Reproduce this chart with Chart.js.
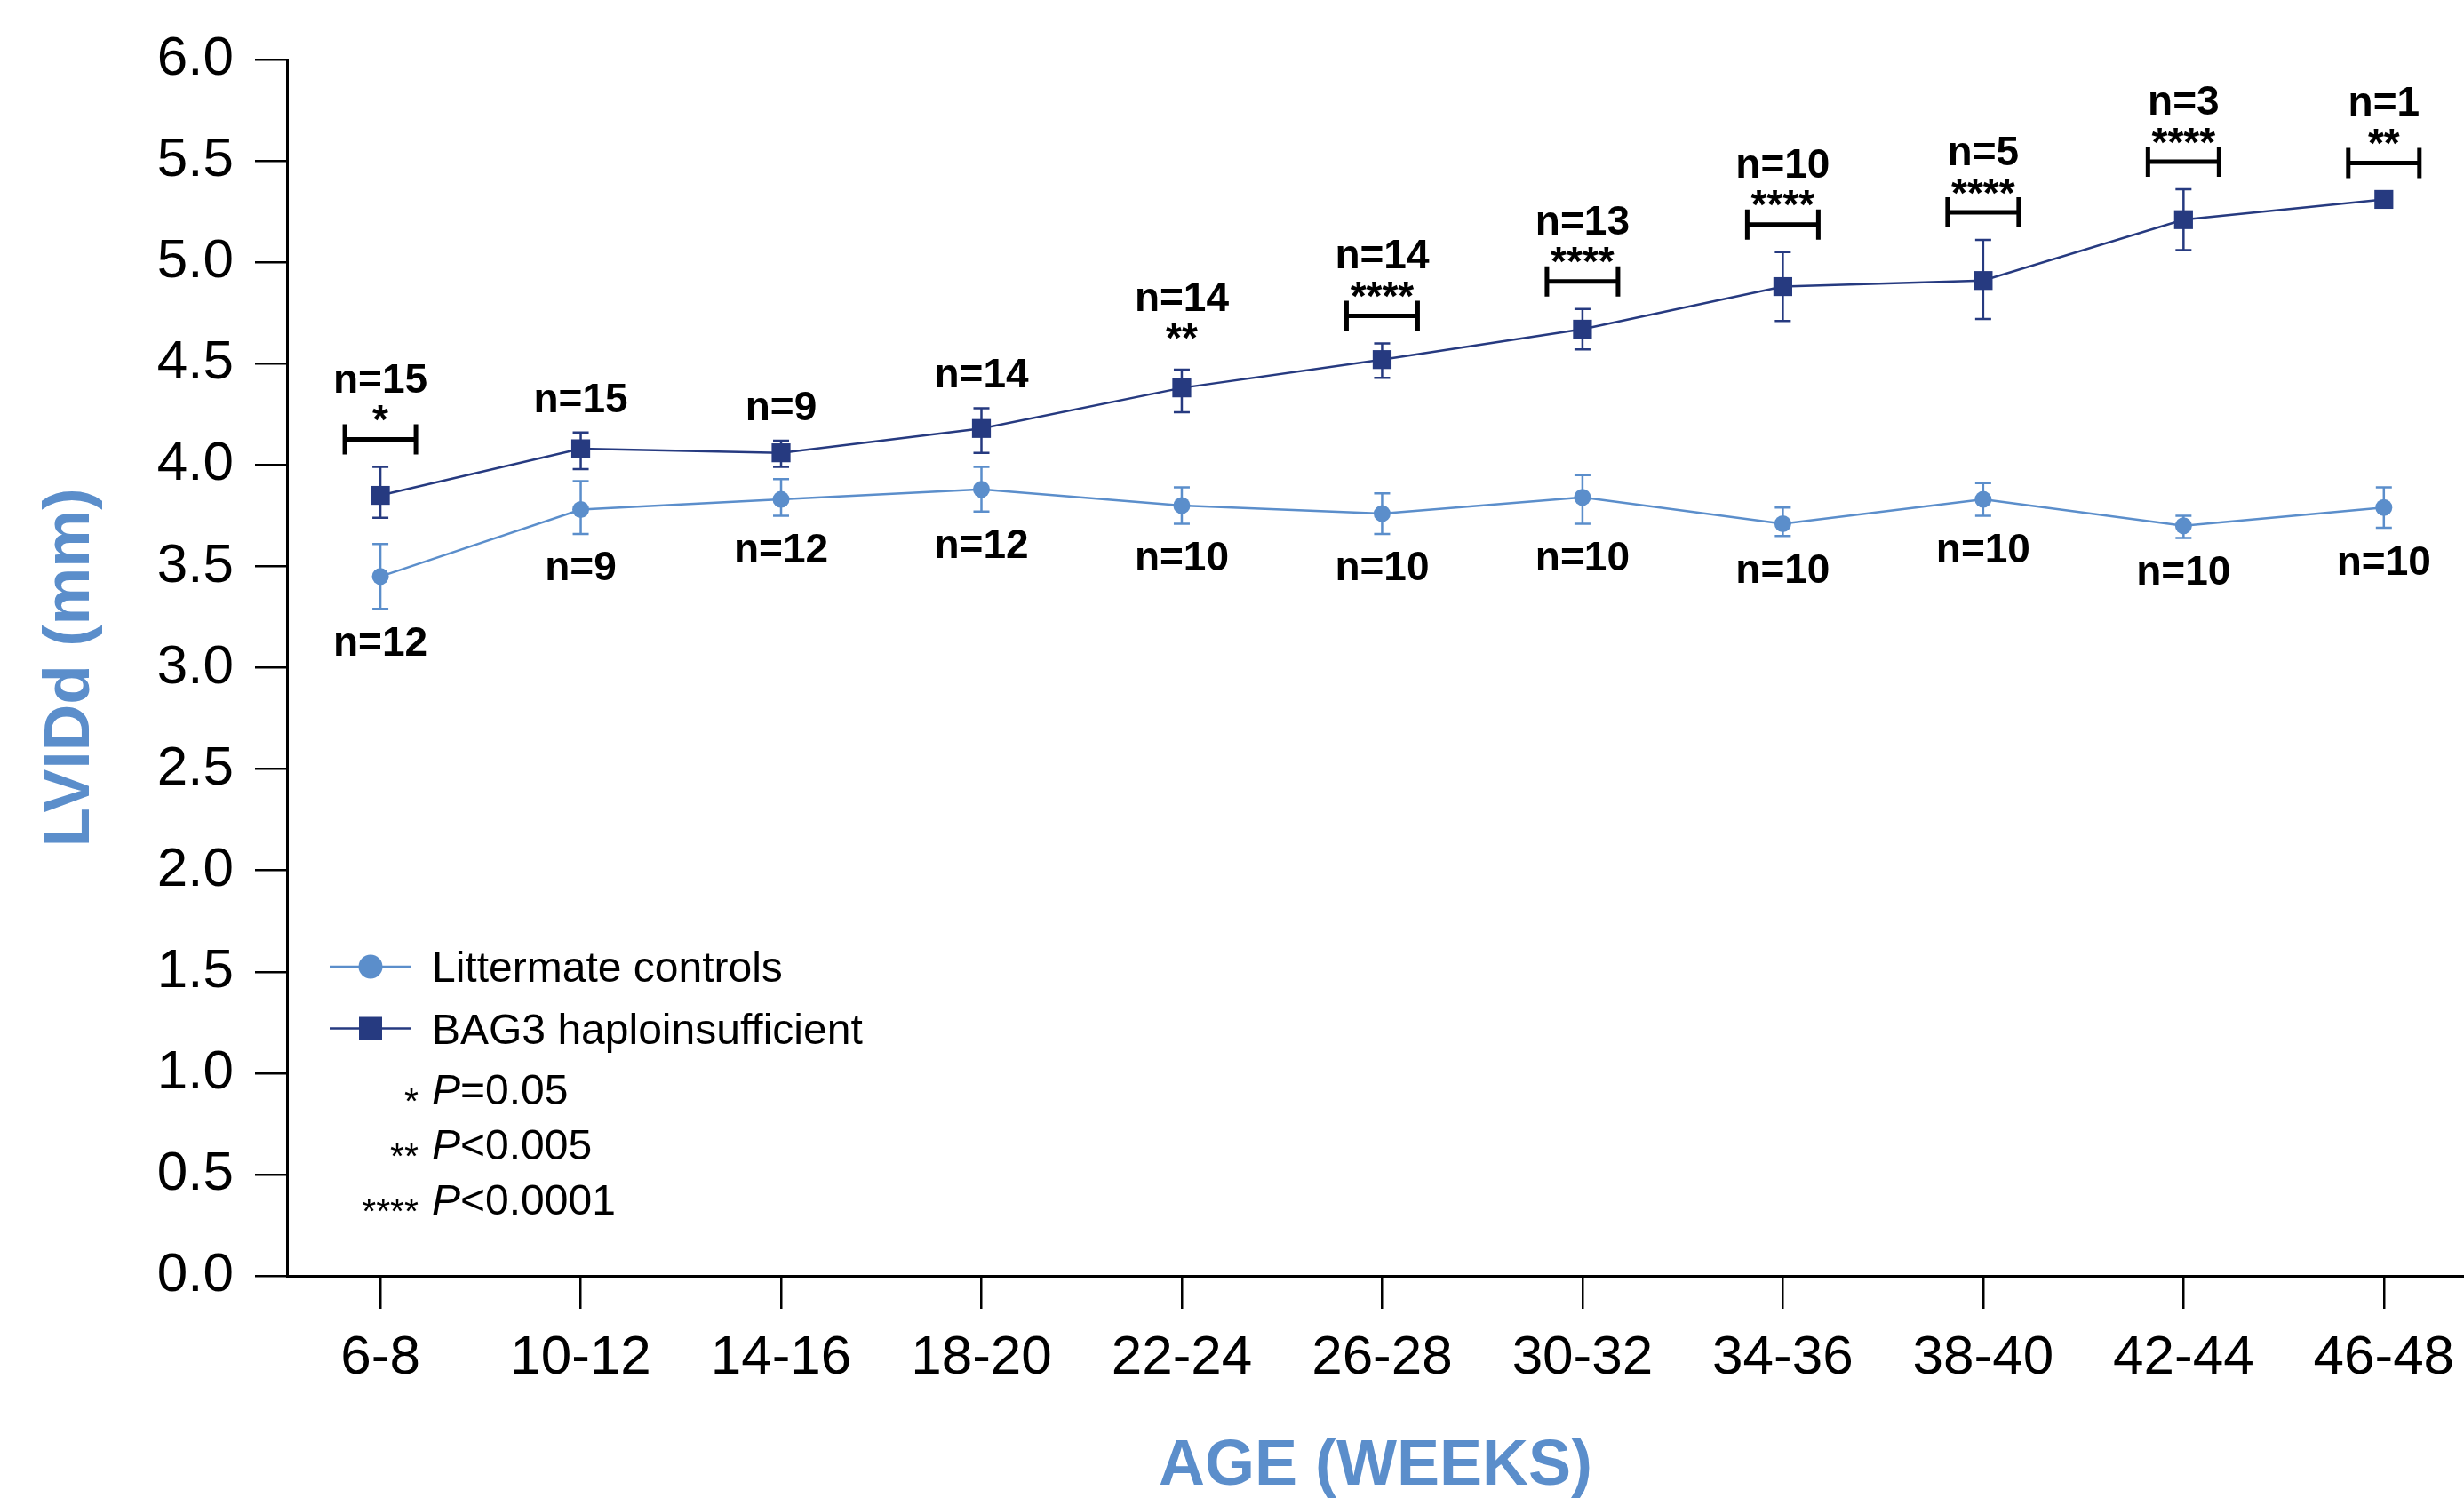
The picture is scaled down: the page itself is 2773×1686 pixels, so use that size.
<!DOCTYPE html>
<html>
<head>
<meta charset="utf-8">
<script src="https://cdn.jsdelivr.net/npm/chart.js@4.4.1/dist/chart.umd.min.js"></script>
<style>
html,body{margin:0;padding:0;background:#ffffff;overflow:hidden}
#wrap{width:2773px;height:1686px;position:relative}
canvas{display:block}
</style>
</head>
<body>
<div id="wrap"><canvas id="c" width="2773" height="1686"></canvas></div>
<script>
// ---------- data ----------
const categories = ['6-8','10-12','14-16','18-20','22-24','26-28','30-32','34-36','38-40','42-44','46-48'];

const controlMean = [3.45, 3.78, 3.83, 3.88, 3.80, 3.76, 3.84, 3.71, 3.83, 3.70, 3.79];
const controlLow  = [3.29, 3.66, 3.75, 3.77, 3.71, 3.66, 3.71, 3.65, 3.75, 3.64, 3.69];
const controlHigh = [3.61, 3.92, 3.93, 3.99, 3.89, 3.86, 3.95, 3.79, 3.91, 3.75, 3.89];

const bag3Mean = [3.85, 4.08, 4.06, 4.18, 4.38, 4.52, 4.67, 4.88, 4.91, 5.21, 5.31];
const bag3Low  = [3.74, 3.98, 3.99, 4.06, 4.26, 4.43, 4.57, 4.71, 4.72, 5.06, null];
const bag3High = [3.99, 4.16, 4.12, 4.28, 4.47, 4.60, 4.77, 5.05, 5.11, 5.36, null];

const controlN = ['n=12','n=9','n=12','n=12','n=10','n=10','n=10','n=10','n=10','n=10','n=10'];
const bag3N    = ['n=15','n=15','n=9','n=14','n=14','n=14','n=13','n=10','n=5','n=3','n=1'];
const significance = ['*','','','','**','****','****','****','****','****','**'];
const bracketShown = [true,false,false,false,false,true,true,true,true,true,true];

const seriesNames = ['Littermate controls','BAG3 haploinsufficient'];
const pLegend = [['*','P','=0.05'],['**','P','<0.005'],['****','P','<0.0001']];
const yTitle = 'LVIDd (mm)';
const xTitle = 'AGE (WEEKS)';

// ---------- styles ----------
const FONT = "'Liberation Sans', Arial, Helvetica, sans-serif";
const COL_CTRL = '#5b8ecb';
const COL_BAG = '#263a80';

function centerText(ctx, text, x, cy) {
  const m = ctx.measureText(text);
  const a = m.actualBoundingBoxAscent, d = m.actualBoundingBoxDescent;
  ctx.textBaseline = 'alphabetic';
  ctx.fillText(text, x, cy + (a - d) / 2);
}

const errorBars = {
  id: 'errorBars',
  beforeDatasetsDraw(chart) {
    const {ctx, scales: {x, y}} = chart;
    const sets = [[controlLow, controlHigh, COL_CTRL], [bag3Low, bag3High, COL_BAG]];
    ctx.save();
    ctx.lineWidth = 2.5;
    for (const [lo, hi, col] of sets) {
      ctx.strokeStyle = col;
      lo.forEach((l, i) => {
        if (l == null || hi[i] == null) return;
        const px = x.getPixelForValue(i);
        const p1 = y.getPixelForValue(l), p2 = y.getPixelForValue(hi[i]);
        ctx.beginPath();
        ctx.moveTo(px, p1); ctx.lineTo(px, p2);
        ctx.moveTo(px - 9, p1); ctx.lineTo(px + 9, p1);
        ctx.moveTo(px - 9, p2); ctx.lineTo(px + 9, p2);
        ctx.stroke();
      });
    }
    ctx.restore();
  }
};

const annotations = {
  id: 'annotations',
  afterDatasetsDraw(chart) {
    const {ctx, scales: {x, y}} = chart;
    ctx.save();
    ctx.fillStyle = '#000';
    ctx.strokeStyle = '#000';
    ctx.textAlign = 'center';
    categories.forEach((c, i) => {
      const px = x.getPixelForValue(i);
      let base = bag3High[i] != null ? y.getPixelForValue(bag3High[i]) : y.getPixelForValue(bag3Mean[i]) - 10;
      let nBase;
      ctx.font = `bold 46px ${FONT}`;
      if (bracketShown[i]) {
        const by = base - 31;
        ctx.lineWidth = 5;
        ctx.beginPath();
        ctx.moveTo(px - 40, by); ctx.lineTo(px + 40, by);
        ctx.moveTo(px - 40, by - 17); ctx.lineTo(px - 40, by + 17);
        ctx.moveTo(px + 40, by - 17); ctx.lineTo(px + 40, by + 17);
        ctx.stroke();
        const sc = by - 29.5;
        centerText(ctx, significance[i], px, sc);
        nBase = sc - 23.5;
      } else if (significance[i]) {
        const sc = base - 43;
        centerText(ctx, significance[i], px, sc);
        nBase = sc - 23.5;
      } else {
        nBase = base - 23;
      }
      ctx.textBaseline = 'alphabetic';
      ctx.fillText(bag3N[i], px, nBase);
      const lb = y.getPixelForValue(controlLow[i]) + 52.5;
      ctx.fillText(controlN[i], px, lb);
    });
    ctx.restore();
  }
};

const legendPlugin = {
  id: 'customLegend',
  afterDraw(chart) {
    const ctx = chart.ctx;
    ctx.save();
    const rows = [1088, 1157.5];
    const cols = [COL_CTRL, COL_BAG];
    rows.forEach((ry, k) => {
      ctx.strokeStyle = cols[k];
      ctx.fillStyle = cols[k];
      ctx.lineWidth = 2.5;
      ctx.beginPath(); ctx.moveTo(371, ry); ctx.lineTo(462, ry); ctx.stroke();
      if (k === 0) { ctx.beginPath(); ctx.arc(417, ry, 13.5, 0, Math.PI * 2); ctx.fill(); }
      else { ctx.fillRect(417 - 13, ry - 13, 26, 26); }
      ctx.fillStyle = '#000';
      ctx.font = `48px ${FONT}`;
      ctx.textAlign = 'left';
      ctx.textBaseline = 'alphabetic';
      ctx.fillText(seriesNames[k], 486, ry + 17);
    });
    const pRows = [1243, 1305, 1367];
    pLegend.forEach((p, k) => {
      const b = pRows[k];
      ctx.fillStyle = '#000';
      ctx.font = `41px ${FONT}`;
      ctx.textAlign = 'right';
      centerText(ctx, p[0], 471, b - 11);
      ctx.textAlign = 'left';
      ctx.textBaseline = 'alphabetic';
      ctx.font = `italic 48px ${FONT}`;
      ctx.fillText(p[1], 486, b);
      const w = ctx.measureText(p[1]).width;
      ctx.font = `48px ${FONT}`;
      ctx.fillText(p[2], 486 + w, b);
    });
    ctx.restore();
  }
};

new Chart(document.getElementById('c'), {
  type: 'line',
  data: {
    datasets: [
      {
        label: seriesNames[0],
        data: categories.map((c, i) => ({x: i, y: controlMean[i]})),
        borderColor: COL_CTRL, backgroundColor: COL_CTRL,
        borderWidth: 2.5, pointStyle: 'circle', pointRadius: 9.5, pointBorderWidth: 0,
        pointBackgroundColor: COL_CTRL, tension: 0, fill: false
      },
      {
        label: seriesNames[1],
        data: categories.map((c, i) => ({x: i, y: bag3Mean[i]})),
        borderColor: COL_BAG, backgroundColor: COL_BAG,
        borderWidth: 2.5, pointStyle: 'rect', pointRadius: 15, pointBorderWidth: 0,
        pointBackgroundColor: COL_BAG, tension: 0, fill: false
      }
    ]
  },
  options: {
    responsive: false,
    animation: false,
    devicePixelRatio: 1,
    layout: {autoPadding: false, padding: {top: 67, right: 0, left: 0, bottom: 0}},
    plugins: {legend: {display: false}, tooltip: {enabled: false}},
    scales: {
      x: {
        type: 'linear', min: -0.466, max: 10.4,
        afterBuildTicks: s => { s.ticks = categories.map((c, i) => ({value: i})); },
        afterFit: s => { s.height = 250; s.paddingLeft = 0; s.paddingRight = 0; },
        ticks: {callback: v => categories[v], font: {family: FONT, size: 62}, color: '#000', padding: 19, maxRotation: 0, autoSkip: false},
        grid: {drawOnChartArea: false, drawTicks: true, tickLength: 37, color: '#000', lineWidth: 2.5},
        border: {display: true, color: '#000', width: 3},
        title: {display: true, text: xTitle, color: COL_CTRL, font: {family: FONT, size: 72, weight: 'bold', lineHeight: 0.9}, padding: {top: 0, bottom: 2}}
      },
      y: {
        min: 0, max: 6,
        ticks: {stepSize: 0.5, callback: v => Number(v).toFixed(1), font: {family: FONT, size: 62}, color: '#000', padding: 24},
        grid: {drawOnChartArea: false, drawTicks: true, tickLength: 36, color: '#000', lineWidth: 2.5},
        border: {display: true, color: '#000', width: 3},
        afterFit: s => { s.width = 323; s.paddingTop = 0; s.paddingBottom = 0; },
        title: {display: true, text: yTitle, color: COL_CTRL, font: {family: FONT, size: 73, weight: 'bold', lineHeight: 1}, padding: {top: 43, bottom: 0}}
      }
    }
  },
  plugins: [errorBars, annotations, legendPlugin]
});
</script>
</body>
</html>
